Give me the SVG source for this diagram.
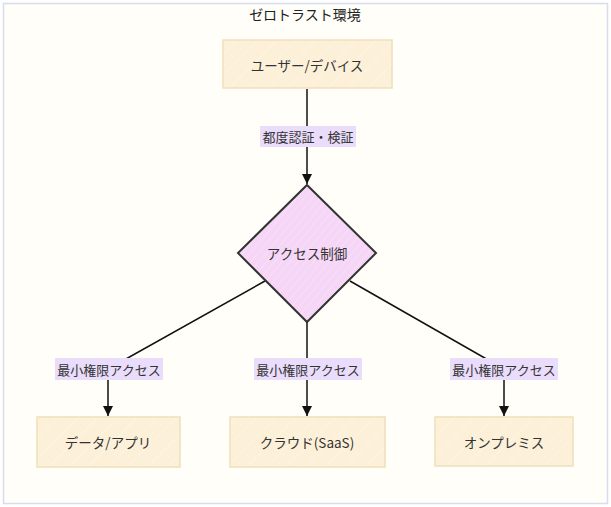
<svg xmlns="http://www.w3.org/2000/svg" width="611" height="507" viewBox="0 0 611 507">
<style>
  text { font-family: "Noto Sans CJK JP", "Liberation Sans", sans-serif; fill: #333; text-anchor: middle; dominant-baseline: central; }
  .title { font-size: 14px; fill: #222; }
  .node rect { fill: url(#hatchBox); stroke: #efe0bb; stroke-width: 1.5; }
  .node text { font-size: 13.5px; }
  .dec polygon { fill: url(#hatchDia); stroke: #333; stroke-width: 2; stroke-linejoin: miter; }
  .edge { fill: none; stroke: #111; stroke-width: 1.5; }
  .lbl rect { fill: #eadcfb; }
  .lbl text { font-size: 13px; fill: #333; }
</style>
<defs>
  <pattern id="hatchBox" width="14" height="14" patternUnits="userSpaceOnUse" patternTransform="rotate(45)">
    <rect width="14" height="14" fill="#fcf0d9"/>
    <line x1="0" y1="0" x2="0" y2="14" stroke="#fff8ea" stroke-width="1"/>
  </pattern>
  <pattern id="hatchDia" width="6" height="6" patternUnits="userSpaceOnUse" patternTransform="rotate(40)">
    <rect width="6" height="6" fill="#f6d6f6"/>
    <line x1="0" y1="0" x2="0" y2="6" stroke="#fbe6fb" stroke-width="1"/>
  </pattern>
  <marker id="arrow" viewBox="0 0 10 10" refX="10" refY="5" markerWidth="10" markerHeight="10" markerUnits="userSpaceOnUse" orient="auto">
    <path d="M0,0 L10,5 L0,10 z" fill="#111"/>
  </marker>
</defs>
<rect x="3.5" y="3.5" width="604" height="500" fill="#fffef8" stroke="#d8dcf0" stroke-width="1.5"/>
<text class="title" x="305" y="14">ゼロトラスト環境</text>

<g id="connectors">
  <path class="edge" d="M307,89 L307,184" marker-end="url(#arrow)"/>
  <path class="edge" d="M265,281 L108,369 L108,416" marker-end="url(#arrow)"/>
  <path class="edge" d="M307,322 L307,416" marker-end="url(#arrow)"/>
  <path class="edge" d="M350,281 L504,369 L504,416" marker-end="url(#arrow)"/>
</g>

<g id="label-auth" class="lbl">
  <rect x="260" y="126" width="96" height="21"/>
  <text x="308" y="136.5">都度認証・検証</text>
</g>
<g id="label-left" class="lbl">
  <rect x="55" y="358" width="108" height="22"/>
  <text x="109" y="369">最小権限アクセス</text>
</g>
<g id="label-mid" class="lbl">
  <rect x="254" y="358" width="108" height="22"/>
  <text x="308" y="369">最小権限アクセス</text>
</g>
<g id="label-right" class="lbl">
  <rect x="450" y="358" width="108" height="22"/>
  <text x="504" y="369">最小権限アクセス</text>
</g>

<g id="user" class="node">
  <rect x="223" y="40" width="169" height="48"/>
  <text x="307" y="65">ユーザー/デバイス</text>
</g>
<g id="access" class="dec">
  <polygon points="307,185 376,253 307,322 238,253"/>
  <text x="307" y="253" style="font-size:13.5px">アクセス制御</text>
</g>
<g id="data" class="node">
  <rect x="37" y="417" width="143" height="50"/>
  <text x="108" y="442">データ/アプリ</text>
</g>
<g id="cloud" class="node">
  <rect x="230" y="417" width="155" height="50"/>
  <text x="307" y="442">クラウド(SaaS)</text>
</g>
<g id="onprem" class="node">
  <rect x="435" y="417" width="138" height="49"/>
  <text x="504" y="442">オンプレミス</text>
</g>
</svg>
